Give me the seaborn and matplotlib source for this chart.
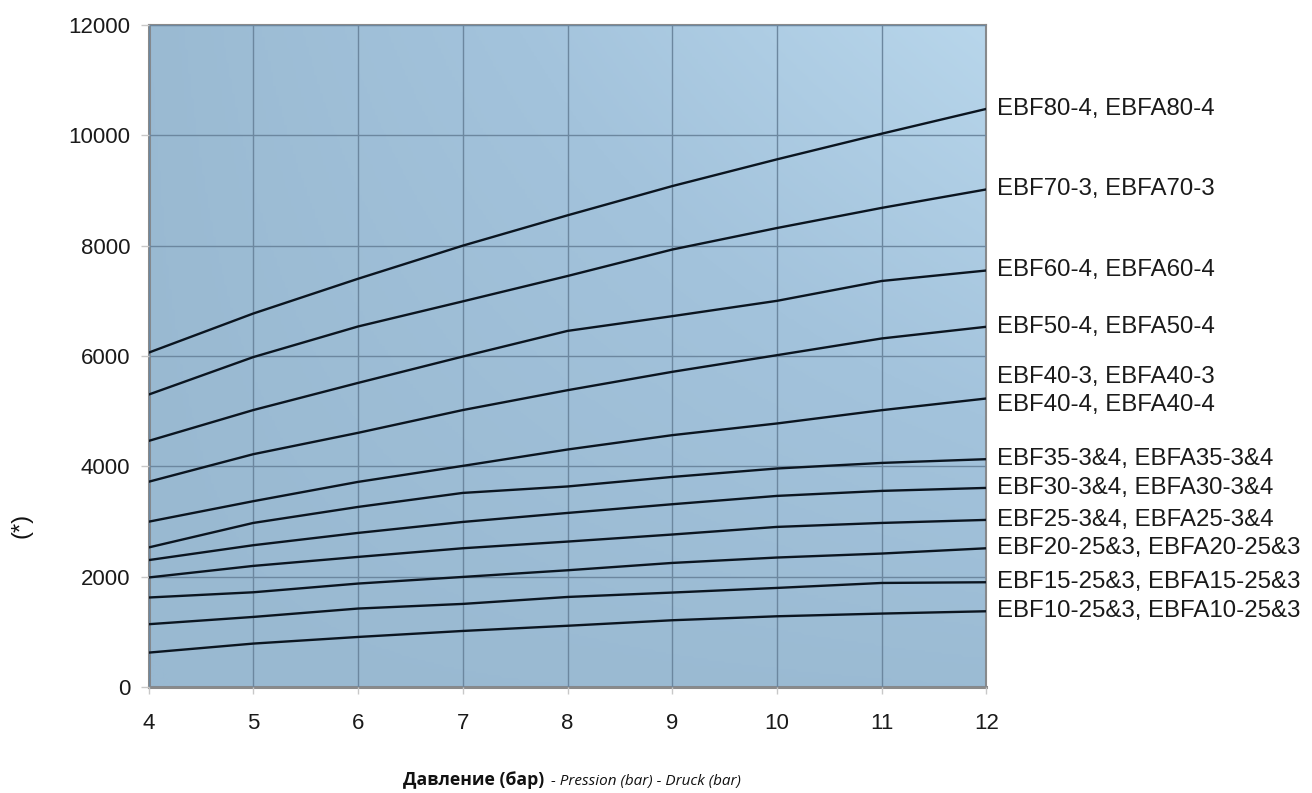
import matplotlib
matplotlib.use('Agg')
import matplotlib.pyplot as plt
import numpy as np
import pandas as pd
import seaborn as sns
from matplotlib.colors import LinearSegmentedColormap

# pressure (bar) and curves
pressure = [4, 5, 6, 7, 8, 9, 10, 11, 12]
ebf80 = [6060, 6770, 7400, 8000, 8550, 9080, 9565, 10030, 10480]
ebf70 = [5300, 5980, 6535, 6990, 7450, 7930, 8320, 8685, 9020]
ebf60 = [4460, 5020, 5512, 5990, 6455, 6722, 7000, 7360, 7550]
ebf50 = [3720, 4220, 4607, 5020, 5380, 5713, 6015, 6318, 6530]
ebf40 = [2996, 3368, 3718, 4008, 4305, 4565, 4777, 5018, 5230]
ebf35 = [2529, 2974, 3264, 3518, 3635, 3808, 3961, 4062, 4130]
ebf30 = [2300, 2570, 2793, 2992, 3155, 3313, 3464, 3555, 3609]
ebf25 = [1985, 2195, 2358, 2515, 2636, 2764, 2902, 2974, 3029]
ebf20 = [1622, 1717, 1875, 1995, 2116, 2249, 2347, 2419, 2515]
ebf15 = [1138, 1270, 1422, 1506, 1632, 1712, 1796, 1886, 1899]
ebf10 = [623, 787, 907, 1016, 1110, 1210, 1282, 1331, 1373]

series = {'EBF80': ebf80, 'EBF70': ebf70, 'EBF60': ebf60, 'EBF50': ebf50,
          'EBF40': ebf40, 'EBF35': ebf35, 'EBF30': ebf30, 'EBF25': ebf25,
          'EBF20': ebf20, 'EBF15': ebf15, 'EBF10': ebf10}

# labels at the right end of each curve (EBF40 curve carries two labels)
labels = [('EBF80', 'EBF80-4, EBFA80-4', 0),
          ('EBF70', 'EBF70-3, EBFA70-3', 0),
          ('EBF60', 'EBF60-4, EBFA60-4', 0),
          ('EBF50', 'EBF50-4, EBFA50-4', 0),
          ('EBF40', 'EBF40-3, EBFA40-3', 21),
          ('EBF40', 'EBF40-4, EBFA40-4', -7),
          ('EBF35', 'EBF35-3&4, EBFA35-3&4', 0),
          ('EBF30', 'EBF30-3&4, EBFA30-3&4', 0),
          ('EBF25', 'EBF25-3&4, EBFA25-3&4', 0),
          ('EBF20', 'EBF20-25&3, EBFA20-25&3', 0),
          ('EBF15', 'EBF15-25&3, EBFA15-25&3', 0),
          ('EBF10', 'EBF10-25&3, EBFA10-25&3', 0)]

rows = []
for name, vals in series.items():
    for p, v in zip(pressure, vals):
        rows.append({'model': name, 'pressure': p, 'value': v})
df = pd.DataFrame(rows)

sns.set_style('white')
plt.rcParams['font.family'] = ['Liberation Sans', 'DejaVu Sans']

fig = plt.figure(figsize=(13.12, 7.93), dpi=100)
ax = fig.add_axes([148.5 / 1312, 1 - 687 / 793, 838 / 1312, 662 / 793])

# gradient background: darker bottom-left, lighter top-right
cmap = LinearSegmentedColormap.from_list('bg', ['#99b9d1', '#a3c3dc', '#b8d6eb'])
gx, gy = np.meshgrid(np.linspace(0, 1, 300), np.linspace(0, 1, 300))
grad = (gx * gy) ** 0.9 * 0.85 + gx * 0.1 + gy * 0.05
ax.imshow(grad, extent=(4, 12, 0, 12000), origin='lower', aspect='auto',
          cmap=cmap, vmin=0, vmax=1, zorder=0, interpolation='bilinear')

sns.lineplot(data=df, x='pressure', y='value', hue='model', ax=ax,
             palette=['#0b1520'] * len(series), legend=False, linewidth=1.7,
             zorder=3)

ax.set_xlim(4, 12)
ax.set_ylim(0, 12000)
ax.set_xticks(range(4, 13))
ax.set_yticks(range(0, 12001, 2000))
ax.grid(True, color='#6c879f', linewidth=1.0, zorder=1)
ax.set_axisbelow(False)
for ln in ax.get_xgridlines() + ax.get_ygridlines():
    ln.set_zorder(1)
ax.set_xlabel('')
ax.set_ylabel('')
for side in ['left', 'bottom']:
    ax.spines[side].set_color('#8a8a8a')
    ax.spines[side].set_linewidth(2.2)
for side in ['top', 'right']:
    ax.spines[side].set_color('#8a8a8a')
    ax.spines[side].set_linewidth(1.5)
ax.tick_params(axis='y', length=6, width=1, color='#c8c8c8', pad=7,
               labelsize=16, labelcolor='#1a1a1a', left=True)
ax.tick_params(axis='x', length=5, width=1, color='#c8c8c8', pad=14,
               labelsize=16, labelcolor='#1a1a1a', bottom=True)

for key, text, dy in labels:
    ax.annotate(text, xy=(12, series[key][-1]), xytext=(11 * 0.72, dy * 0.72),
                textcoords='offset points', va='center', ha='left',
                fontsize=17.3, color='#1a1a1a', annotation_clip=False)

fig.text(22 / 1312, 1 - 525 / 793, '(*)', rotation=90, fontsize=17,
         ha='center', va='center', color='#111111')

# x-axis title: bold Russian part followed by smaller italic French/German
t1 = fig.text(403 / 1312, 1 - 785 / 793, 'Давление (бар)', fontsize=12.7,
              fontweight='bold', family=['Open Sans', 'DejaVu Sans'],
              ha='left', va='baseline', color='#111111')
fig.canvas.draw()
bb = t1.get_window_extent(renderer=fig.canvas.get_renderer())
fig.text(bb.x1 / fig.bbox.width + 0.002, 1 - 785 / 793,
         ' - Pression (bar) - Druck (bar)', fontsize=11, style='italic',
         family=['Open Sans', 'DejaVu Sans'], ha='left', va='baseline',
         color='#111111')

plt.savefig('out.png', dpi=100)
plt.close()
